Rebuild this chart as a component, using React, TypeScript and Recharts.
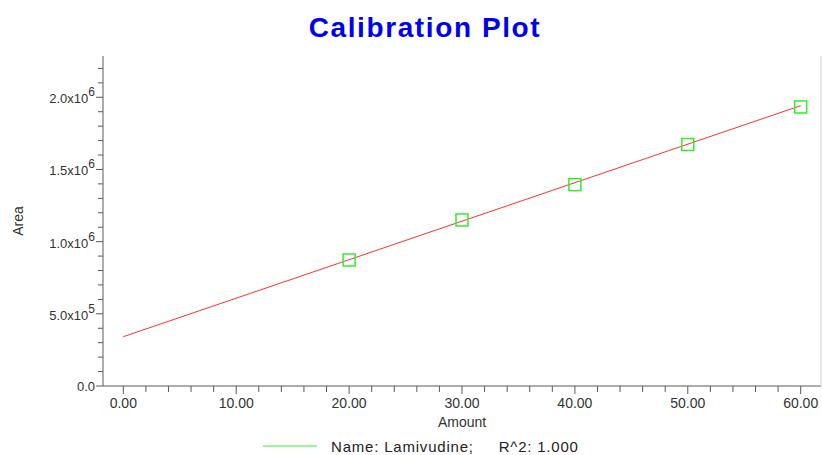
import { ComposedChart, Legend, Line, Scatter, XAxis, YAxis } from "recharts";

const compound = "Lamivudine";
const rSquared = "1.000";

// calibration standards
const amounts = [20, 30, 40, 50, 60];
const areas = [873000, 1150000, 1395000, 1673000, 1933000];

// fitted line end points
const fitAmounts = [0, 60];
const fitAreas = [341500, 1942000];

const xTicks = [0, 2, 4, 6, 8, 10, 12, 14, 16, 18, 20, 22, 24, 26, 28, 30, 32, 34, 36, 38, 40, 42, 44, 46, 48, 50, 52, 54, 56, 58, 60];
const xMajor = [0, 10, 20, 30, 40, 50, 60];
const xLabels = ["0.00", "10.00", "20.00", "30.00", "40.00", "50.00", "60.00"];

const yTicks = [
  0, 100000, 200000, 300000, 400000, 500000, 600000, 700000, 800000, 900000, 1000000, 1100000,
  1200000, 1300000, 1400000, 1500000, 1600000, 1700000, 1800000, 1900000, 2000000, 2100000, 2200000,
];
const yMajor = [0, 500000, 1000000, 1500000, 2000000];
const yMantissa = ["0.0", "5.0", "1.0", "1.5", "2.0"];
const yExponent = ["", "5", "6", "6", "6"];

const X_DOMAIN = [-1.8, 61.8];
const Y_DOMAIN = [0, 2286000];

const FONT = "'Liberation Sans', Arial, sans-serif";
const AXIS = "#5a5a5a";
const LABEL = "#333";
const GREEN = "#2cf02c";
const RED = "#ff3030";

const points = amounts.map((amount, i) => ({ amount, area: areas[i] }));
const fit = fitAmounts.map((amount, i) => ({ amount, area: fitAreas[i] }));

function XTick({ x, y, payload }: any) {
  const i = xMajor.indexOf(payload.value);
  const major = i >= 0;
  return (
    <g>
      <line x1={x} x2={x} y1={y} y2={y + (major ? 8 : 6)} stroke={AXIS} />
      {major && (
        <text x={x} y={y + 22} textAnchor="middle" fontSize={14} fill={LABEL} fontFamily={FONT}>
          {xLabels[i]}
        </text>
      )}
    </g>
  );
}

function YTick({ x, y, payload }: any) {
  const i = yMajor.indexOf(payload.value);
  const major = i >= 0;
  return (
    <g>
      <line x1={x - (major ? 7 : 5)} x2={x} y1={y} y2={y} stroke={AXIS} />
      {major && (
        <text x={x - 8} y={y + (yExponent[i] ? 6 : 5)} textAnchor="end" fontSize={13} fill={LABEL} fontFamily={FONT}>
          {yMantissa[i]}
          {yExponent[i] && (
            <>
              {"x10"}
              <tspan fontSize={12} dy={-7}>{yExponent[i]}</tspan>
            </>
          )}
        </text>
      )}
    </g>
  );
}

function Square({ cx, cy }: any) {
  return <rect x={cx - 6} y={cy - 6} width={12} height={12} fill="none" stroke={GREEN} strokeWidth={1.5} />;
}

function LegendRow({ payload }: any) {
  const item = (payload || [])[0];
  return (
    <div style={{ height: 24, display: "flex", alignItems: "center", paddingLeft: 263, paddingTop: 6, boxSizing: "border-box", fontFamily: FONT }}>
      <svg width={54} height={4}>
        <line x1={0} x2={54} y1={2} y2={2} stroke={item?.color ?? GREEN} strokeWidth={1} />
      </svg>
      <span style={{ marginLeft: 14, fontSize: 15, letterSpacing: 0.8, color: "#222", whiteSpace: "pre" }}>
        {`Name: ${item?.value ?? compound};     R^2: ${rSquared}`}
      </span>
    </div>
  );
}

export default function App() {
  return (
    <div style={{ position: "absolute", left: 0, top: 0, width: 822, height: 455, background: "#fff" }}>
      <div
        style={{
          position: "absolute",
          left: 0,
          width: 850,
          top: 11,
          textAlign: "center",
          fontFamily: FONT,
          fontWeight: "bold",
          fontSize: 28,
          letterSpacing: 1.6,
          color: "#0000f0",
          lineHeight: "34px",
        }}
      >
        Calibration Plot
      </div>
      <ComposedChart width={822} height={455} data={points} margin={{ top: 56, right: 0, bottom: 0, left: 0 }}>
        <XAxis
          xAxisId="main"
          dataKey="amount"
          type="number"
          domain={X_DOMAIN}
          allowDataOverflow
          ticks={xTicks}
          interval={0}
          tickSize={0}
          tickMargin={0}
          tickLine={false}
          tick={<XTick />}
          height={45}
          stroke={AXIS}
          label={{ value: "Amount", position: "insideTop", offset: 31, fontSize: 14, fill: LABEL, fontFamily: FONT }}
        />
        <XAxis xAxisId="top" orientation="top" type="number" domain={X_DOMAIN} height={0} tick={false} tickLine={false} stroke={AXIS} />
        <YAxis
          yAxisId="main"
          dataKey="area"
          type="number"
          domain={Y_DOMAIN}
          allowDataOverflow
          ticks={yTicks}
          interval={0}
          tickSize={0}
          tickMargin={0}
          tickLine={false}
          tick={<YTick />}
          width={103}
          stroke={AXIS}
          label={{
            content: ({ viewBox }: any) => (
              <text
                x={18}
                y={viewBox.y + viewBox.height / 2}
                transform={`rotate(-90 18 ${viewBox.y + viewBox.height / 2})`}
                textAnchor="middle"
                dominantBaseline="central"
                fontSize={14}
                fill={LABEL}
                fontFamily={FONT}
              >
                Area
              </text>
            ),
          }}
        />
        <YAxis yAxisId="right" orientation="right" type="number" domain={Y_DOMAIN} width={1} tick={false} tickLine={false} stroke="#d0d0d0" />
        <Line
          xAxisId="main"
          yAxisId="main"
          data={fit}
          dataKey="area"
          type="linear"
          stroke={RED}
          strokeWidth={1}
          dot={false}
          activeDot={false}
          legendType="none"
          isAnimationActive={false}
        />
        <Scatter
          xAxisId="main"
          yAxisId="main"
          name={compound}
          data={points}
          dataKey="area"
          fill={GREEN}
          shape={<Square />}
          isAnimationActive={false}
        />
        <Legend verticalAlign="bottom" content={<LegendRow />} />
      </ComposedChart>
    </div>
  );
}
